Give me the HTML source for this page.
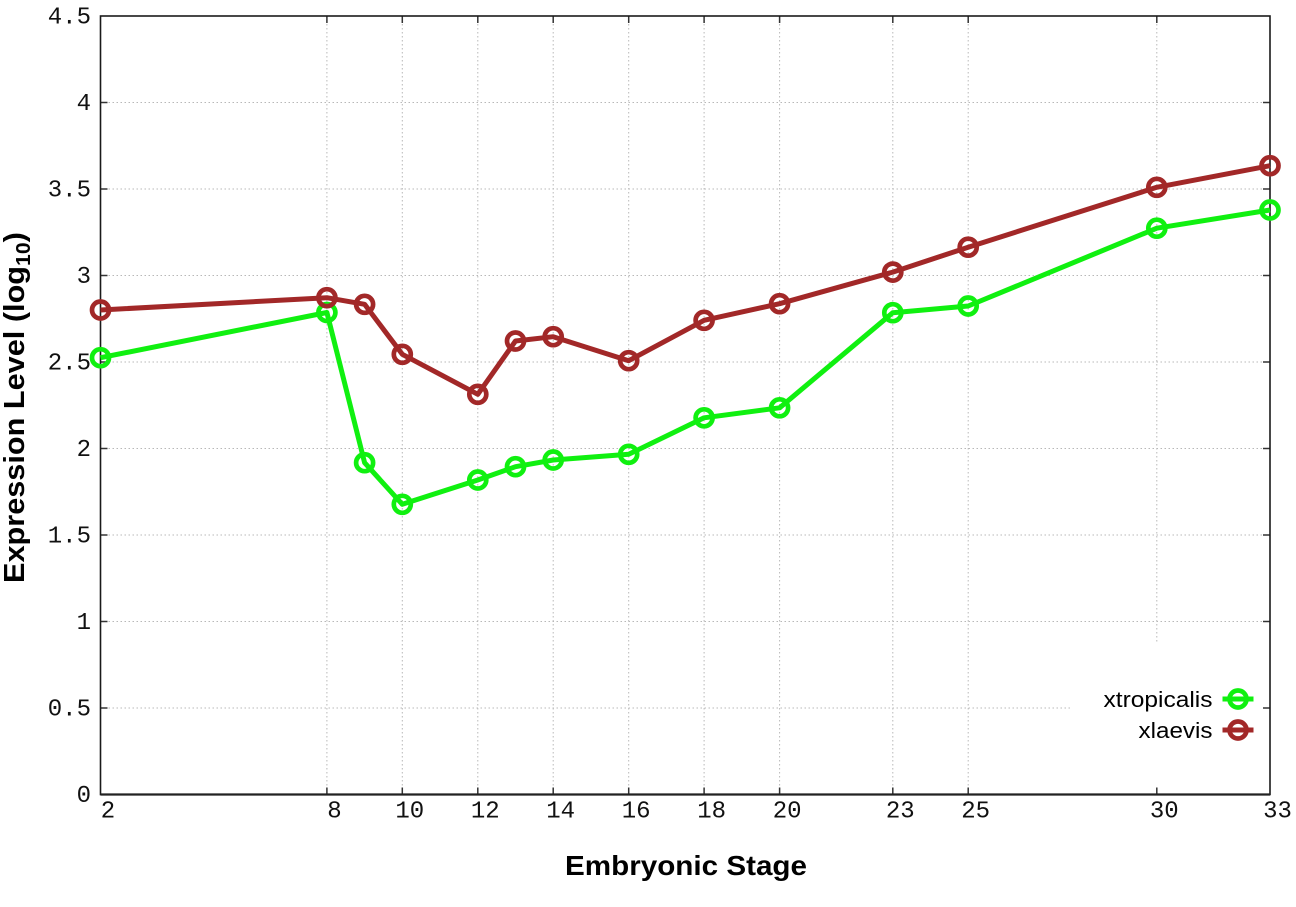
<!DOCTYPE html>
<html>
<head>
<meta charset="utf-8">
<style>
  html, body { margin: 0; padding: 0; background: #ffffff; }
  svg { display: block; }
  .tick { font-family: "Liberation Mono", monospace; font-size: 24px; fill: #111; }
  .lab { font-family: "Liberation Sans", sans-serif; font-weight: bold; fill: #000; }
  .leg { font-family: "Liberation Sans", sans-serif; font-size: 22px; fill: #000; }
</style>
</head>
<body>
<svg width="1296" height="907" viewBox="0 0 1296 907" xmlns="http://www.w3.org/2000/svg">
  <rect x="0" y="0" width="1296" height="907" fill="#fff"/>

  <!-- grid horizontal -->
  <g stroke="#b8b8b8" stroke-width="1" stroke-dasharray="1.5,2.5" fill="none">
    <line x1="100.5" y1="708" x2="1270" y2="708"/>
    <line x1="100.5" y1="621.5" x2="1270" y2="621.5"/>
    <line x1="100.5" y1="535" x2="1270" y2="535"/>
    <line x1="100.5" y1="448.5" x2="1270" y2="448.5"/>
    <line x1="100.5" y1="362" x2="1270" y2="362"/>
    <line x1="100.5" y1="275.5" x2="1270" y2="275.5"/>
    <line x1="100.5" y1="189" x2="1270" y2="189"/>
    <line x1="100.5" y1="102.5" x2="1270" y2="102.5"/>
    <!-- grid vertical -->
    <line x1="326.9" y1="16" x2="326.9" y2="794.5"/>
    <line x1="402.3" y1="16" x2="402.3" y2="794.5"/>
    <line x1="477.8" y1="16" x2="477.8" y2="794.5"/>
    <line x1="553.2" y1="16" x2="553.2" y2="794.5"/>
    <line x1="628.7" y1="16" x2="628.7" y2="794.5"/>
    <line x1="704.1" y1="16" x2="704.1" y2="794.5"/>
    <line x1="779.6" y1="16" x2="779.6" y2="794.5"/>
    <line x1="892.8" y1="16" x2="892.8" y2="794.5"/>
    <line x1="968.2" y1="16" x2="968.2" y2="794.5"/>
    <line x1="1156.8" y1="16" x2="1156.8" y2="794.5"/>
  </g>

  <!-- key box blanking grid -->
  <rect x="1072" y="643" width="198" height="152" fill="#fff"/>

  <!-- ticks -->
  <g stroke="#333" stroke-width="1.5">
    <!-- y ticks left & right -->
    <line x1="100.5" y1="708" x2="107.5" y2="708"/><line x1="1270" y1="708" x2="1263" y2="708"/>
    <line x1="100.5" y1="621.5" x2="107.5" y2="621.5"/><line x1="1270" y1="621.5" x2="1263" y2="621.5"/>
    <line x1="100.5" y1="535" x2="107.5" y2="535"/><line x1="1270" y1="535" x2="1263" y2="535"/>
    <line x1="100.5" y1="448.5" x2="107.5" y2="448.5"/><line x1="1270" y1="448.5" x2="1263" y2="448.5"/>
    <line x1="100.5" y1="362" x2="107.5" y2="362"/><line x1="1270" y1="362" x2="1263" y2="362"/>
    <line x1="100.5" y1="275.5" x2="107.5" y2="275.5"/><line x1="1270" y1="275.5" x2="1263" y2="275.5"/>
    <line x1="100.5" y1="189" x2="107.5" y2="189"/><line x1="1270" y1="189" x2="1263" y2="189"/>
    <line x1="100.5" y1="102.5" x2="107.5" y2="102.5"/><line x1="1270" y1="102.5" x2="1263" y2="102.5"/>
    <!-- x ticks bottom & top -->
    <line x1="326.9" y1="794.5" x2="326.9" y2="787.5"/><line x1="326.9" y1="16" x2="326.9" y2="23"/>
    <line x1="402.3" y1="794.5" x2="402.3" y2="787.5"/><line x1="402.3" y1="16" x2="402.3" y2="23"/>
    <line x1="477.8" y1="794.5" x2="477.8" y2="787.5"/><line x1="477.8" y1="16" x2="477.8" y2="23"/>
    <line x1="553.2" y1="794.5" x2="553.2" y2="787.5"/><line x1="553.2" y1="16" x2="553.2" y2="23"/>
    <line x1="628.7" y1="794.5" x2="628.7" y2="787.5"/><line x1="628.7" y1="16" x2="628.7" y2="23"/>
    <line x1="704.1" y1="794.5" x2="704.1" y2="787.5"/><line x1="704.1" y1="16" x2="704.1" y2="23"/>
    <line x1="779.6" y1="794.5" x2="779.6" y2="787.5"/><line x1="779.6" y1="16" x2="779.6" y2="23"/>
    <line x1="892.8" y1="794.5" x2="892.8" y2="787.5"/><line x1="892.8" y1="16" x2="892.8" y2="23"/>
    <line x1="968.2" y1="794.5" x2="968.2" y2="787.5"/><line x1="968.2" y1="16" x2="968.2" y2="23"/>
    <line x1="1156.8" y1="794.5" x2="1156.8" y2="787.5"/><line x1="1156.8" y1="16" x2="1156.8" y2="23"/>
  </g>

  <!-- border -->
  <rect x="100.5" y="16" width="1169.5" height="778.5" fill="none" stroke="#1a1a1a" stroke-width="1.6"/>
  <line x1="100.5" y1="794.5" x2="1270" y2="794.5" stroke="#222" stroke-width="2.2"/>

  <!-- y tick labels -->
  <g class="tick" text-anchor="end">
    <text x="91" y="802">0</text>
    <text x="91" y="715.5">0.5</text>
    <text x="91" y="629">1</text>
    <text x="91" y="542.5">1.5</text>
    <text x="91" y="456">2</text>
    <text x="91" y="369.5">2.5</text>
    <text x="91" y="283">3</text>
    <text x="91" y="196.5">3.5</text>
    <text x="91" y="110">4</text>
    <text x="91" y="23.5">4.5</text>
  </g>

  <!-- x tick labels -->
  <g class="tick" text-anchor="middle">
    <text x="108" y="817.5">2</text>
    <text x="334.4" y="817.5">8</text>
    <text x="409.8" y="817.5">10</text>
    <text x="485.3" y="817.5">12</text>
    <text x="560.7" y="817.5">14</text>
    <text x="636.2" y="817.5">16</text>
    <text x="711.6" y="817.5">18</text>
    <text x="787.1" y="817.5">20</text>
    <text x="900.3" y="817.5">23</text>
    <text x="975.7" y="817.5">25</text>
    <text x="1164.3" y="817.5">30</text>
    <text x="1277.5" y="817.5">33</text>
  </g>

  <!-- axis labels -->
  <text class="lab" x="565" y="875" font-size="28" textLength="242" lengthAdjust="spacingAndGlyphs">Embryonic Stage</text>
  <g transform="translate(24,583) rotate(-90) scale(1.058,1)">
    <text class="lab" x="0" y="0" font-size="29">Expression Level (log<tspan font-size="20" dy="6">10</tspan><tspan dy="-6">)</tspan></text>
  </g>

  <!-- xtropicalis series -->
  <g fill="none" stroke="#10f010" stroke-linejoin="round">
    <polyline stroke-width="5" points="100.5,357.7 326.9,312.5 364.6,462.7 402.3,504.3 477.8,480 515.5,466.7 553.2,460 628.7,454.3 704.1,417.8 779.6,407.8 892.8,312.7 968.2,306 1156.8,228.2 1270,210"/>
    <g stroke-width="4.7">
      <circle cx="100.5" cy="357.7" r="8.5"/>
      <circle cx="326.9" cy="312.5" r="8.5"/>
      <circle cx="364.6" cy="462.7" r="8.5"/>
      <circle cx="402.3" cy="504.3" r="8.5"/>
      <circle cx="477.8" cy="480" r="8.5"/>
      <circle cx="515.5" cy="466.7" r="8.5"/>
      <circle cx="553.2" cy="460" r="8.5"/>
      <circle cx="628.7" cy="454.3" r="8.5"/>
      <circle cx="704.1" cy="417.8" r="8.5"/>
      <circle cx="779.6" cy="407.8" r="8.5"/>
      <circle cx="892.8" cy="312.7" r="8.5"/>
      <circle cx="968.2" cy="306" r="8.5"/>
      <circle cx="1156.8" cy="228.2" r="8.5"/>
      <circle cx="1270" cy="210" r="8.5"/>
    </g>
  </g>

  <!-- xlaevis series -->
  <g fill="none" stroke="#a22828" stroke-linejoin="round">
    <polyline stroke-width="5" points="100.5,310 326.9,297.7 364.6,304.3 402.3,354.3 477.8,394.3 515.5,341 553.2,336.7 628.7,360.7 704.1,320.3 779.6,303.7 892.8,272.1 968.2,247.2 1156.8,187.3 1270,165.7"/>
    <g stroke-width="4.7">
      <circle cx="100.5" cy="310" r="8.5"/>
      <circle cx="326.9" cy="297.7" r="8.5"/>
      <circle cx="364.6" cy="304.3" r="8.5"/>
      <circle cx="402.3" cy="354.3" r="8.5"/>
      <circle cx="477.8" cy="394.3" r="8.5"/>
      <circle cx="515.5" cy="341" r="8.5"/>
      <circle cx="553.2" cy="336.7" r="8.5"/>
      <circle cx="628.7" cy="360.7" r="8.5"/>
      <circle cx="704.1" cy="320.3" r="8.5"/>
      <circle cx="779.6" cy="303.7" r="8.5"/>
      <circle cx="892.8" cy="272.1" r="8.5"/>
      <circle cx="968.2" cy="247.2" r="8.5"/>
      <circle cx="1156.8" cy="187.3" r="8.5"/>
      <circle cx="1270" cy="165.7" r="8.5"/>
    </g>
  </g>

  <!-- legend -->
  <text class="leg" x="1212.5" y="707" text-anchor="end" textLength="109" lengthAdjust="spacingAndGlyphs">xtropicalis</text>
  <text class="leg" x="1212.5" y="738" text-anchor="end" textLength="74" lengthAdjust="spacingAndGlyphs">xlaevis</text>
  <g fill="none" stroke="#10f010">
    <line x1="1222.5" y1="699" x2="1253.5" y2="699" stroke-width="5"/>
    <circle cx="1238" cy="699" r="8.5" stroke-width="4.7"/>
  </g>
  <g fill="none" stroke="#a22828">
    <line x1="1222.5" y1="730" x2="1253.5" y2="730" stroke-width="5"/>
    <circle cx="1238" cy="730" r="8.5" stroke-width="4.7"/>
  </g>
</svg>
</body>
</html>
